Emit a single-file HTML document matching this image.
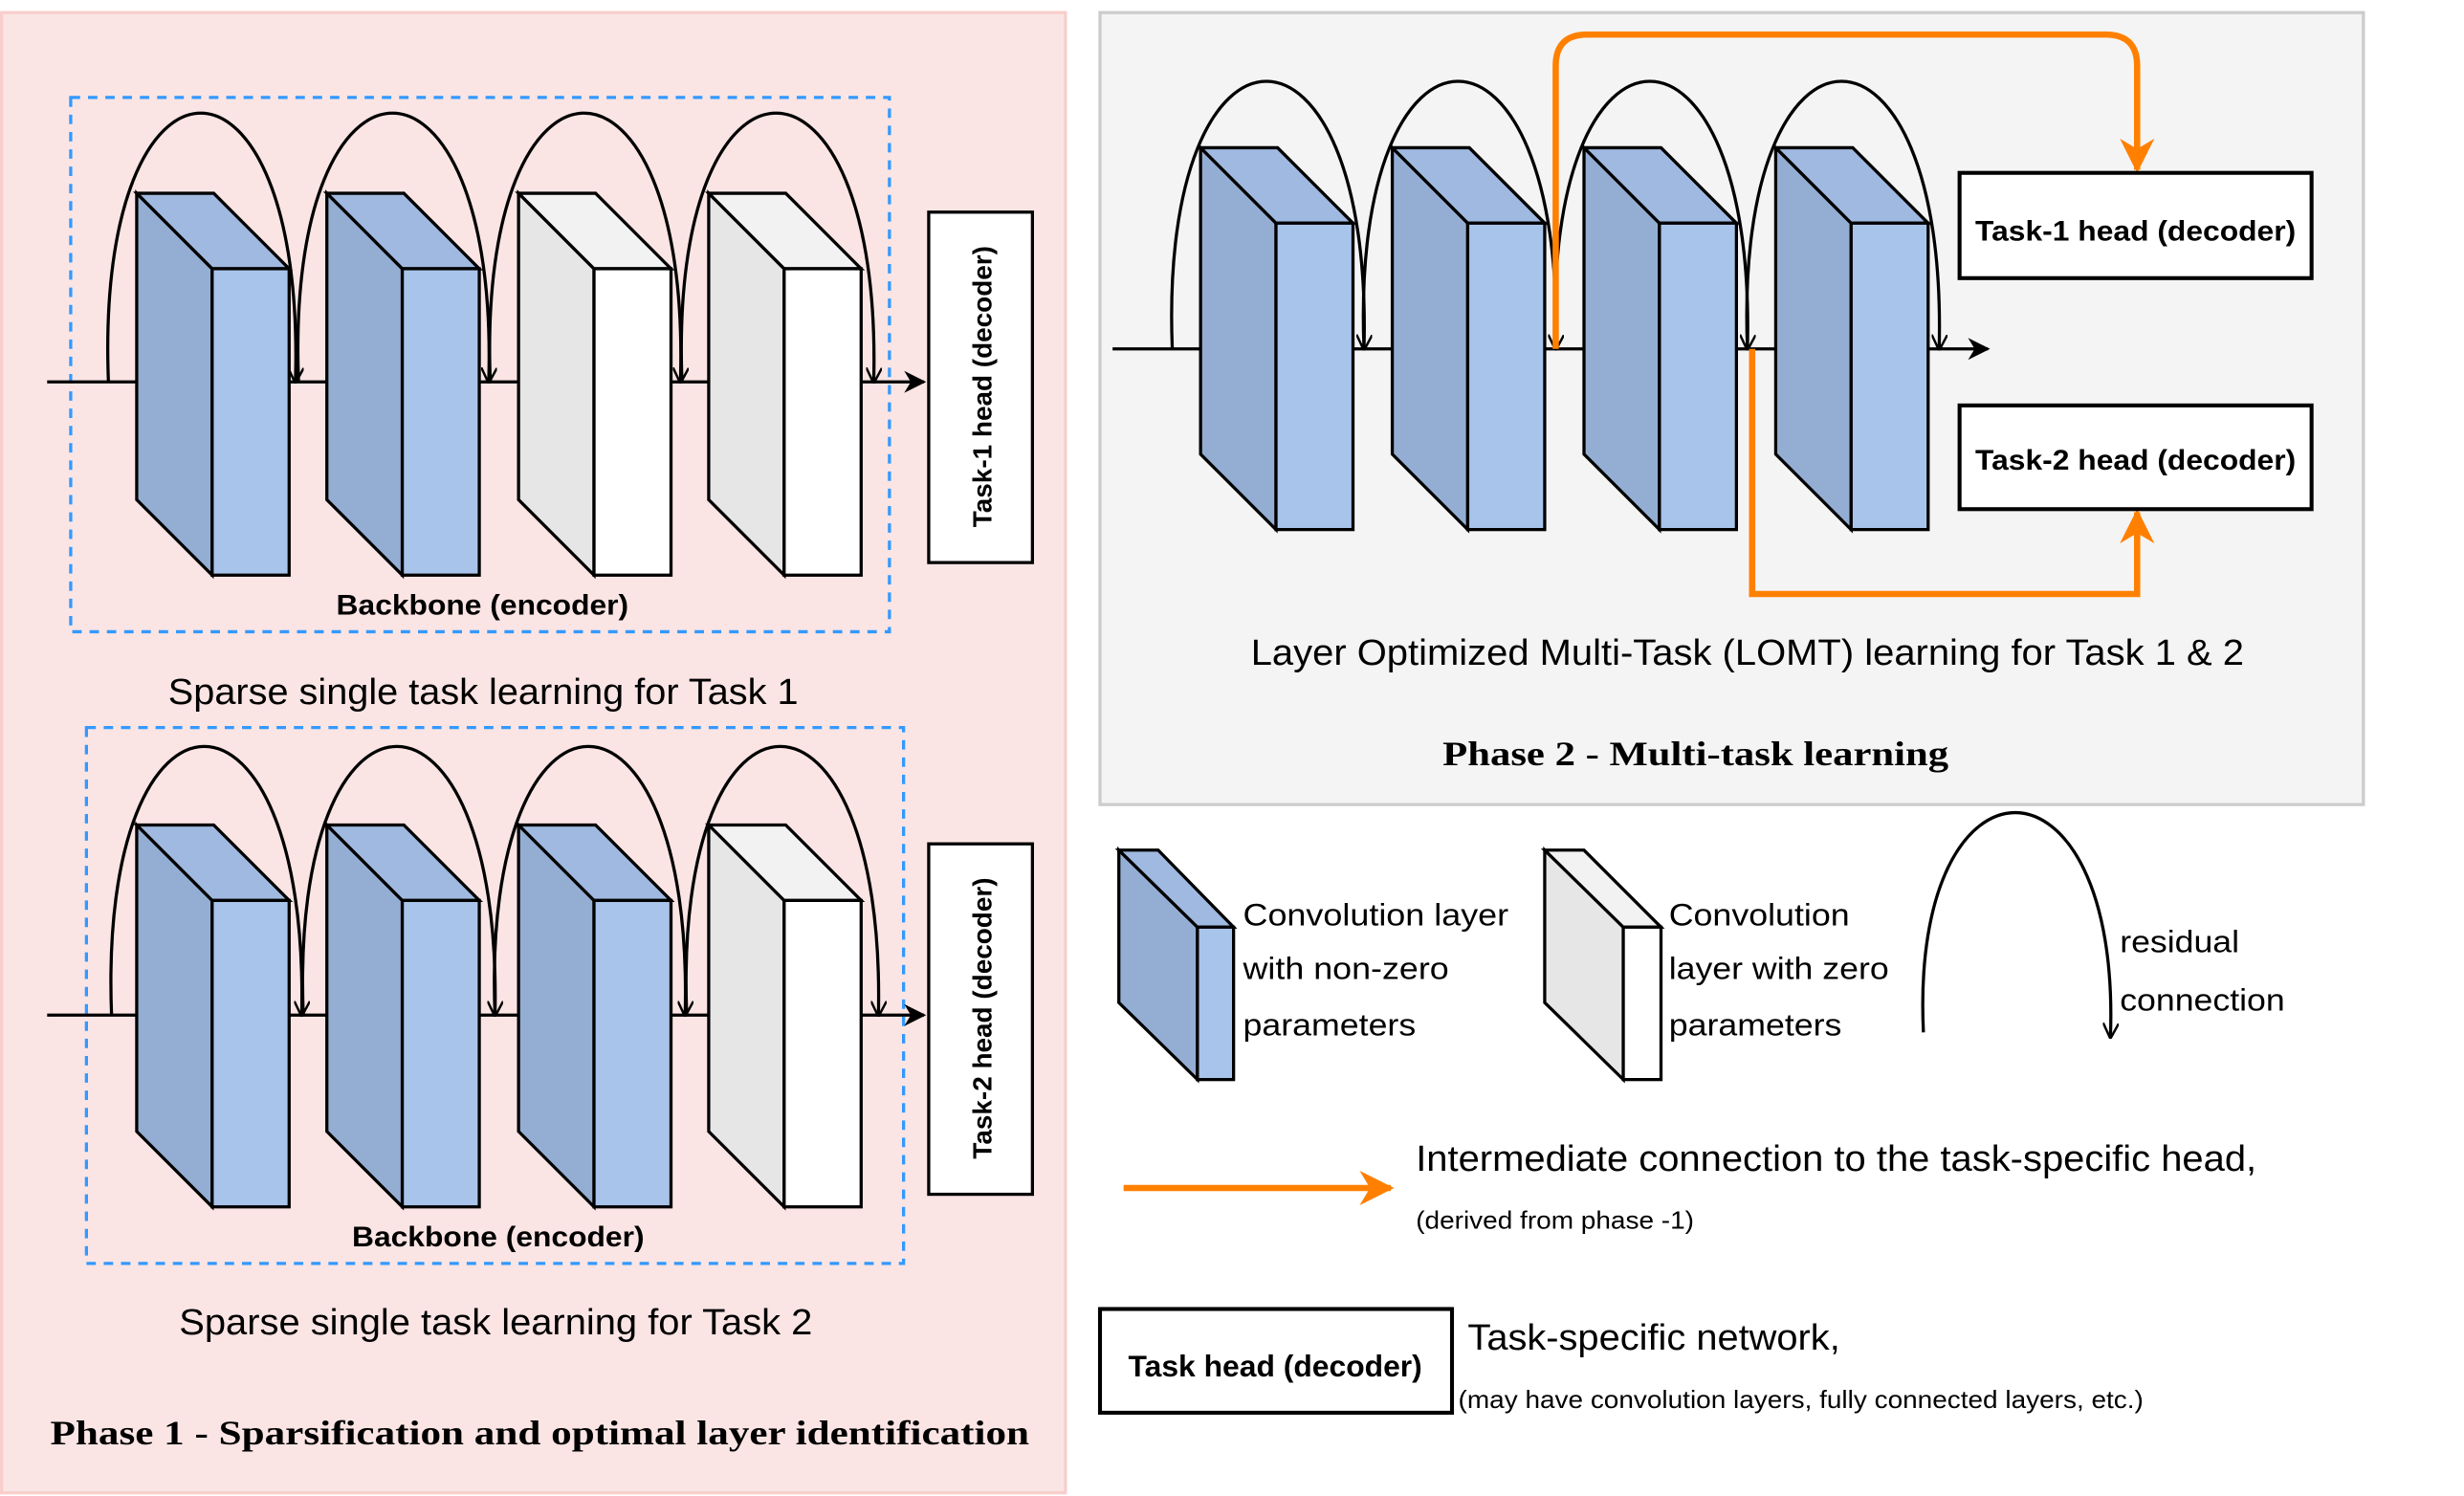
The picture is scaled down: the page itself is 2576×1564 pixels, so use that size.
<!DOCTYPE html>
<html><head><style>html,body{margin:0;padding:0;background:#fff}svg{display:block}</style></head><body>
<svg width="2576" height="1564" viewBox="0 0 1568 952" preserveAspectRatio="none" xmlns="http://www.w3.org/2000/svg" font-family="Liberation Sans, sans-serif">
<defs>
<marker id="ah" viewBox="0 0 10 10" refX="9" refY="5" markerWidth="10" markerHeight="10" orient="auto" markerUnits="userSpaceOnUse"><path d="M0,0 L10,5 L0,10" fill="none" stroke="#000" stroke-width="1.5"/></marker>
<marker id="ahf" viewBox="0 0 10 10" refX="9" refY="5" markerWidth="20" markerHeight="14" orient="auto" markerUnits="userSpaceOnUse"><path d="M0,0 L10,5 L0,10 L3,5z" fill="#000"/></marker>
<marker id="ao" viewBox="0 0 10 10" refX="9" refY="5" markerWidth="30" markerHeight="22" orient="auto" markerUnits="userSpaceOnUse"><path d="M0,0 L10,5 L0,10 L3,5z" fill="#ff8000"/></marker>
<g id="bb" stroke="#000" stroke-width="2">
<polygon points="0,0 48,48 48,243 0,195" fill="#94aed3"/>
<polygon points="0,0 49,0 97,48 48,48" fill="#a0b9e0"/>
<rect x="48" y="48" width="49" height="195" fill="#a9c4eb"/>
</g>
<g id="gb" stroke="#000" stroke-width="2">
<polygon points="0,0 48,48 48,243 0,195" fill="#e6e6e6"/>
<polygon points="0,0 49,0 97,48 48,48" fill="#f2f2f2"/>
<rect x="48" y="48" width="49" height="195" fill="#fff"/>
</g>
</defs>
<rect x="1" y="8" width="677" height="942" fill="#fae5e4" stroke="#f8cecc" stroke-width="2"/>
<rect x="700" y="8" width="804" height="504" fill="#f4f4f4" stroke="#ccc" stroke-width="2"/>

<!-- Phase 1 top -->
<rect x="45" y="62" width="521" height="340" fill="none" stroke="#3399ff" stroke-width="2" stroke-dasharray="6,5"/>
<line x1="30" y1="243" x2="588" y2="243" stroke="#000" stroke-width="2" marker-end="url(#ahf)"/>
<use href="#bb" x="87" y="123"/><use href="#bb" x="208" y="123"/><use href="#gb" x="330" y="123"/><use href="#gb" x="451" y="123"/>
<g fill="none" stroke="#000" stroke-width="2" marker-end="url(#ah)">
<path d="M69,243 C60,15 195,15 188,243"/><path d="M190,243 C181,15 318,15 311,243"/><path d="M312,243 C303,15 440,15 433,243"/><path d="M434,243 C425,15 562,15 556,243"/>
</g>
<text x="214" y="391" font-size="18" font-weight="bold" textLength="186" lengthAdjust="spacingAndGlyphs">Backbone (encoder)</text>
<rect x="591" y="135" width="66" height="223" fill="#fff" stroke="#000" stroke-width="2"/>
<text transform="translate(631,246) rotate(-90)" font-size="17" font-weight="bold" text-anchor="middle">Task-1 head (decoder)</text>
<text x="107" y="448" font-size="23" textLength="401" lengthAdjust="spacingAndGlyphs">Sparse single task learning for Task 1</text>

<!-- Phase 1 bottom -->
<rect x="55" y="463" width="520" height="341" fill="none" stroke="#3399ff" stroke-width="2" stroke-dasharray="6,5"/>
<line x1="30" y1="646" x2="588" y2="646" stroke="#000" stroke-width="2" marker-end="url(#ahf)"/>
<use href="#bb" x="87" y="525"/><use href="#bb" x="208" y="525"/><use href="#bb" x="330" y="525"/><use href="#gb" x="451" y="525"/>
<g fill="none" stroke="#000" stroke-width="2" marker-end="url(#ah)">
<path d="M71,646 C62,418 197,418 192,646"/><path d="M193,646 C184,418 320,418 315,646"/><path d="M315,646 C306,418 442,418 436,646"/><path d="M437,646 C428,418 564,418 559,646"/>
</g>
<text x="224" y="793" font-size="18" font-weight="bold" textLength="186" lengthAdjust="spacingAndGlyphs">Backbone (encoder)</text>
<rect x="591" y="537" width="66" height="223" fill="#fff" stroke="#000" stroke-width="2"/>
<text transform="translate(631,648) rotate(-90)" font-size="17" font-weight="bold" text-anchor="middle">Task-2 head (decoder)</text>
<text x="114" y="849" font-size="23" textLength="403" lengthAdjust="spacingAndGlyphs">Sparse single task learning for Task 2</text>
<text x="32" y="919" font-size="22" font-weight="bold" font-family="Liberation Serif, serif" textLength="623" lengthAdjust="spacingAndGlyphs">Phase 1 - Sparsification and optimal layer identification</text>

<!-- Phase 2 -->
<line x1="708" y1="222" x2="1265" y2="222" stroke="#000" stroke-width="2" marker-end="url(#ahf)"/>
<use href="#bb" x="764" y="94"/><use href="#bb" x="886" y="94"/><use href="#bb" x="1008" y="94"/><use href="#bb" x="1130" y="94"/>
<g fill="none" stroke="#000" stroke-width="2" marker-end="url(#ah)">
<path d="M746,222 C737,-5 874,-5 868,222"/><path d="M868,222 C859,-5 996,-5 990,222"/><path d="M990,222 C981,-5 1118,-5 1112,222"/><path d="M1112,222 C1103,-5 1240,-5 1234,222"/>
</g>
<g fill="none" stroke="#ff8000" stroke-width="4">
<path d="M990,222 L990,42 Q990,22 1010,22 L1340,22 Q1360,22 1360,42 L1360,108" marker-end="url(#ao)"/>
<path d="M1115,222 L1115,378 L1360,378 L1360,326" marker-end="url(#ao)"/>
</g>
<rect x="1247" y="110" width="224" height="67" fill="#fff" stroke="#000" stroke-width="2.5"/>
<text x="1257" y="153" font-size="18" font-weight="bold" textLength="204" lengthAdjust="spacingAndGlyphs">Task-1 head (decoder)</text>
<rect x="1247" y="258" width="224" height="66" fill="#fff" stroke="#000" stroke-width="2.5"/>
<text x="1257" y="299" font-size="18" font-weight="bold" textLength="204" lengthAdjust="spacingAndGlyphs">Task-2 head (decoder)</text>
<text x="796" y="423" font-size="23" textLength="632" lengthAdjust="spacingAndGlyphs">Layer Optimized Multi-Task (LOMT) learning for Task 1 &amp; 2</text>
<text x="918" y="487" font-size="22" font-weight="bold" font-family="Liberation Serif, serif" textLength="322" lengthAdjust="spacingAndGlyphs">Phase 2 - Multi-task learning</text>

<!-- Legend -->
<g stroke="#000" stroke-width="2">
<polygon points="712,541 762,590 762,687 712,638" fill="#94aed3"/>
<polygon points="712,541 737,541 785,590 762,590" fill="#a0b9e0"/>
<rect x="762" y="590" width="23" height="97" fill="#a9c4eb"/>
<polygon points="983,541 1033,590 1033,687 983,638" fill="#e6e6e6"/>
<polygon points="983,541 1008,541 1057,590 1033,590" fill="#f2f2f2"/>
<rect x="1033" y="590" width="24" height="97" fill="#fff"/>
</g>
<g font-size="20">
<text x="791" y="589" textLength="169" lengthAdjust="spacingAndGlyphs">Convolution layer</text><text x="791" y="623" textLength="131" lengthAdjust="spacingAndGlyphs">with non-zero</text><text x="791" y="659" textLength="110" lengthAdjust="spacingAndGlyphs">parameters</text>
<text x="1062" y="589" textLength="115" lengthAdjust="spacingAndGlyphs">Convolution</text><text x="1062" y="623" textLength="140" lengthAdjust="spacingAndGlyphs">layer with zero</text><text x="1062" y="659" textLength="110" lengthAdjust="spacingAndGlyphs">parameters</text>
<text x="1349" y="606" textLength="76" lengthAdjust="spacingAndGlyphs">residual</text><text x="1349" y="643" textLength="105" lengthAdjust="spacingAndGlyphs">connection</text>
</g>
<path d="M1224,657 C1215,470 1350,470 1343,660" fill="none" stroke="#000" stroke-width="2" marker-end="url(#ah)"/>
<line x1="715" y1="756" x2="885" y2="756" stroke="#ff8000" stroke-width="4" marker-end="url(#ao)"/>
<text x="901" y="745" font-size="23" textLength="535" lengthAdjust="spacingAndGlyphs">Intermediate connection to the task-specific head,</text>
<text x="901" y="782" font-size="16" textLength="177" lengthAdjust="spacingAndGlyphs">(derived from phase -1)</text>
<rect x="700" y="833" width="224" height="66" fill="#fff" stroke="#000" stroke-width="2.5"/>
<text x="718" y="876" font-size="19" font-weight="bold" textLength="187" lengthAdjust="spacingAndGlyphs">Task head (decoder)</text>
<text x="934" y="859" font-size="23" textLength="237" lengthAdjust="spacingAndGlyphs">Task-specific network,</text>
<text x="928" y="896" font-size="16" textLength="436" lengthAdjust="spacingAndGlyphs">(may have convolution layers, fully connected layers, etc.)</text>
</svg>
</body></html>
